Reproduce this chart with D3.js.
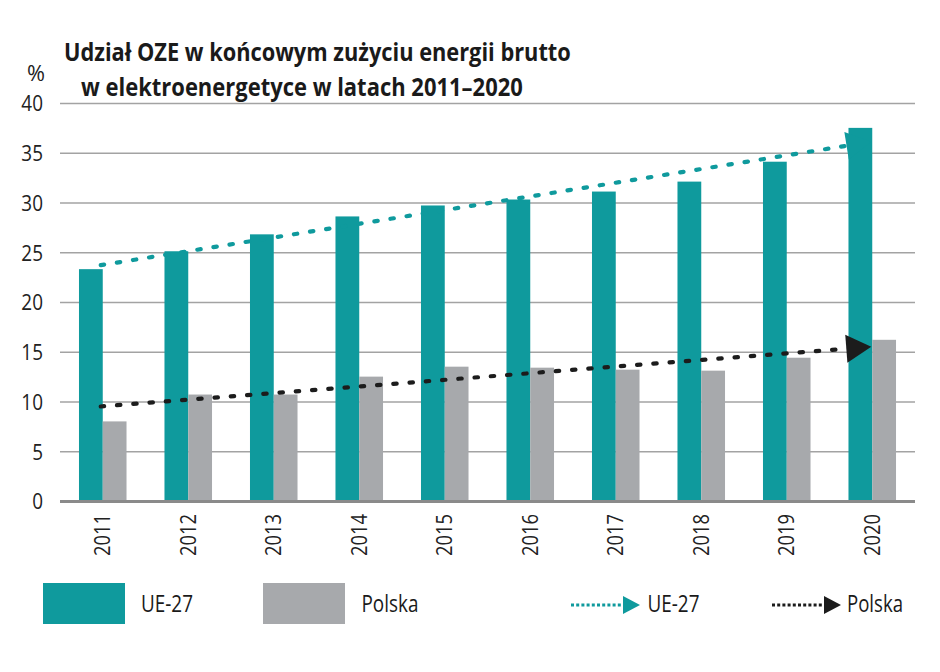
<!DOCTYPE html>
<html>
<head>
<meta charset="utf-8">
<script src="https://cdn.jsdelivr.net/npm/d3@7"></script>
<style>
  html, body { margin: 0; padding: 0; background: #fff; }
  svg { display: block; }
  text { font-family: "Open Sans", "DejaVu Sans", sans-serif; }
</style>
</head>
<body>
<svg id="chart" width="940" height="672"></svg>
<script>
// ---- data ----
const years = ["2011","2012","2013","2014","2015","2016","2017","2018","2019","2020"];
const ue27 = [23.3, 25.1, 26.8, 28.6, 29.7, 30.3, 31.1, 32.1, 34.1, 37.5];
const polska = [8.0, 10.7, 10.7, 12.5, 13.5, 13.4, 13.2, 13.1, 14.4, 16.2];
const trendUE = [23.7, 36.1];   // trend line start (2011) and end (2020)
const trendPL = [9.5, 15.5];
const yTicks = [0, 5, 10, 15, 20, 25, 30, 35, 40];
const titleLines = ["Udział OZE w końcowym zużyciu energii brutto", "w elektroenergetyce w latach 2011–2020"];
const legendLabels = ["UE-27", "Polska", "UE-27", "Polska"];

const TEAL = "#0f9a9d", GREY = "#a7a9ac", BLACK = "#1c1c1c";

const svg = d3.select("#chart");
const x0 = d3.scaleBand().domain(years).range([60, 915]).paddingInner(0.444).paddingOuter(0.222);
const x1 = d3.scaleBand().domain(["ue", "pl"]).range([0, x0.bandwidth()]);
const y = d3.scaleLinear().domain([0, 40]).range([501, 103]);

// horizontally condensed text placed at (x, y) and squeezed to a target width
function condText(parent, x, yy, str, size, targetW, weight, sy) {
  const el = parent.append("text").attr("font-size", size).attr("font-weight", weight || "normal").text(str);
  const w = el.node().getComputedTextLength();
  const s = targetW / w;
  el.attr("transform", `translate(${x},${yy}) scale(${s},${sy || 1})`);
  return el;
}

// title (two lines, condensed)
const tPos = [{x: 64, y: 61, w: 507}, {x: 81, y: 95.5, w: 442}];
const title = svg.append("g").attr("fill", "#1a1a1a");
titleLines.forEach((t, i) => condText(title, tPos[i].x, tPos[i].y, t, 25.2, tPos[i].w, "bold", 1));
condText(svg.append("g").attr("fill", "#222"), 27, 81, "%", 21, 18);

// grid + y axis
const yAxis = d3.axisLeft(y).tickValues(yTicks).tickSize(-(915 - 60)).tickPadding(17).tickFormat(d3.format("d"));
const ga = svg.append("g").attr("transform", "translate(60,0)").call(yAxis);
ga.select(".domain").remove();
ga.selectAll(".tick line").attr("stroke", d => d === 0 ? "#8a8a8a" : "#a3a3a3").attr("stroke-width", d => d === 0 ? 3 : 1.6);
ga.selectAll(".tick text")
  .attr("font-family", "'Open Sans', 'DejaVu Sans', sans-serif")
  .attr("font-size", 22).attr("fill", "#222")
  .attr("x", 0).attr("dy", "0.36em")
  .attr("transform", "translate(-17,0) scale(0.86,1)");

// bars
const groups = svg.append("g").selectAll("g").data(years).join("g")
  .attr("transform", d => `translate(${x0(d)},0)`);
groups.append("rect").attr("x", x1("ue")).attr("width", x1.bandwidth())
  .attr("y", (d, i) => y(ue27[i])).attr("height", (d, i) => y(0) - y(ue27[i]) - 1).attr("fill", TEAL);
groups.append("rect").attr("x", x1("pl")).attr("width", x1.bandwidth())
  .attr("y", (d, i) => y(polska[i])).attr("height", (d, i) => y(0) - y(polska[i]) - 1).attr("fill", GREY);

// x labels
const xAxis = d3.axisBottom(x0).tickSize(0).tickPadding(0);
const gx = svg.append("g").attr("transform", "translate(0,514)").call(xAxis);
gx.select(".domain").remove();
gx.selectAll(".tick text")
  .attr("font-family", "'Open Sans', 'DejaVu Sans', sans-serif")
  .attr("font-size", 21).attr("fill", "#222")
  .attr("text-anchor", "end").attr("x", 0).attr("y", 0).attr("dy", "0.36em")
  .each(function () {
    const w = this.getComputedTextLength();
    d3.select(this).attr("transform", `rotate(-90) scale(${42 / w},1)`);
  });

// trend lines with arrows
function arrowHead(g, tipX, tipY, angle, len, half, color) {
  const pts = [[0, 0], [-len, -half], [-len, half]];
  g.append("path").attr("d", d3.line()(pts)).attr("fill", color)
    .attr("transform", `translate(${tipX},${tipY}) rotate(${angle})`);
}
function trend(vals, color) {
  const xa = x0(years[0]) + x0.bandwidth() / 2 - 2, xb = x0(years[years.length - 1]) + x0.bandwidth() / 2 - 1;
  const ya = y(vals[0]), yb = y(vals[1]);
  const ang = Math.atan2(yb - ya, xb - xa) * 180 / Math.PI;
  const len = 25, g = svg.append("g");
  const r = len / Math.hypot(xb - xa, yb - ya);
  g.append("path").attr("d", d3.line()([[xa, ya], [xb - (xb - xa) * r, yb - (yb - ya) * r]]))
    .attr("stroke", color).attr("stroke-width", 4.2).attr("stroke-dasharray", "3.4,12.9")
    .attr("stroke-linecap", "round").attr("fill", "none");
  arrowHead(g, xb, yb, ang, len, 14, color);
}
trend(trendUE, TEAL);
trend(trendPL, BLACK);

// legend
const lg = svg.append("g").attr("fill", "#1a1a1a");
lg.append("rect").attr("x", 43).attr("y", 583).attr("width", 82).attr("height", 41).attr("fill", TEAL);
condText(lg, 141, 612, legendLabels[0], 24, 52);
lg.append("rect").attr("x", 263).attr("y", 583).attr("width", 82).attr("height", 41).attr("fill", GREY);
condText(lg, 361.5, 612, legendLabels[1], 24, 57);
function legLine(xs, xe, tip, color, label, tx, tw) {
  lg.append("line").attr("x1", xs).attr("x2", xe).attr("y1", 605).attr("y2", 605)
    .attr("stroke", color).attr("stroke-width", 3.2).attr("stroke-dasharray", "3,2.2");
  arrowHead(lg, tip, 605, 0, tip - xe, 9, color);
  condText(lg, tx, 612, label, 24, tw);
}
legLine(571, 623, 640, TEAL, legendLabels[2], 647.5, 52);
legLine(772, 824, 841, BLACK, legendLabels[3], 847, 56);
</script>
</body>
</html>
